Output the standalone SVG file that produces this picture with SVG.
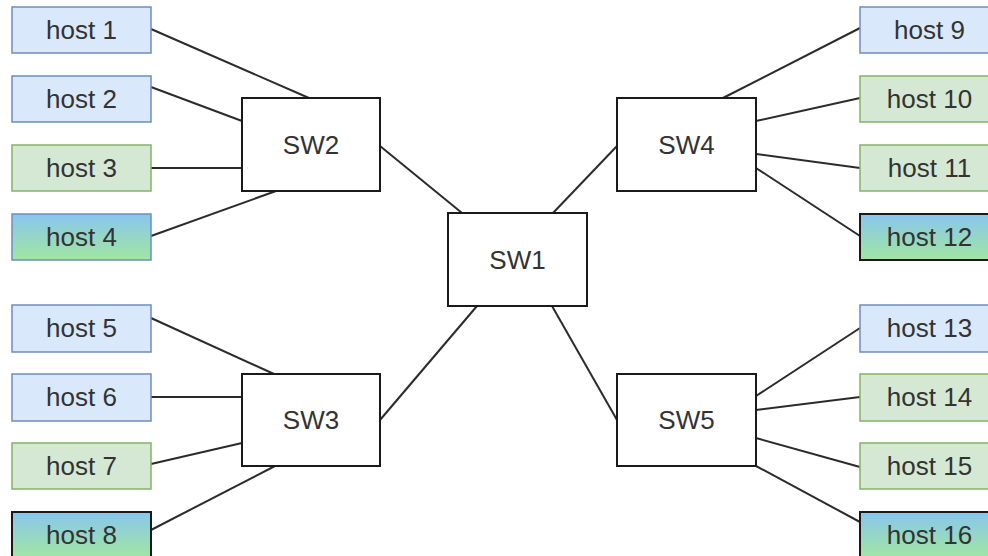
<svg xmlns="http://www.w3.org/2000/svg" width="988" height="556" viewBox="0 0 988 556">
  <style>
    .link { stroke: #2b2b2b; stroke-width: 2; fill: none; }
    .sw { fill: #ffffff; stroke: #1a1a1a; stroke-width: 2; }
    .blue { fill: #dae8fc; stroke: #6c8ebf; stroke-width: 1.5; }
    .green { fill: #d5e8d4; stroke: #82b366; stroke-width: 1.5; }
    .grad { fill: url(#bg); stroke: #6c8ebf; stroke-width: 1.5; }
    .gradk { fill: url(#bg); stroke: #1a1a1a; stroke-width: 2; }
    text { font-family: "Liberation Sans", Arial, sans-serif; font-size: 26px; fill: #333333; text-anchor: middle; dominant-baseline: central; }
  </style>
  <defs>
    <linearGradient id="bg" x1="0" y1="0" x2="0" y2="1">
      <stop offset="0" stop-color="#88c6ef"/>
      <stop offset="1" stop-color="#a2e6a0"/>
    </linearGradient>
  </defs>
  <rect width="988" height="556" fill="#ffffff"/>

  <!-- connectors -->
  <g id="links">
    <line class="link" x1="151" y1="29" x2="309" y2="98"/>
    <line class="link" x1="151" y1="87" x2="242" y2="121"/>
    <line class="link" x1="151" y1="168" x2="242" y2="168"/>
    <line class="link" x1="151" y1="236" x2="276" y2="191"/>
    <line class="link" x1="151" y1="318" x2="274" y2="374"/>
    <line class="link" x1="151" y1="397" x2="242" y2="397"/>
    <line class="link" x1="151" y1="464" x2="242" y2="443"/>
    <line class="link" x1="151" y1="530" x2="275" y2="466"/>
    <line class="link" x1="723" y1="98" x2="860" y2="28"/>
    <line class="link" x1="756" y1="121" x2="860" y2="98"/>
    <line class="link" x1="756" y1="154" x2="860" y2="168"/>
    <line class="link" x1="756" y1="168" x2="860" y2="236"/>
    <line class="link" x1="756" y1="396" x2="860" y2="328"/>
    <line class="link" x1="756" y1="410" x2="860" y2="397"/>
    <line class="link" x1="756" y1="438" x2="860" y2="467"/>
    <line class="link" x1="756" y1="466" x2="860" y2="522"/>
    <line class="link" x1="380" y1="146" x2="462" y2="213"/>
    <line class="link" x1="617" y1="146" x2="553" y2="213"/>
    <line class="link" x1="380" y1="420" x2="477" y2="306"/>
    <line class="link" x1="617" y1="420" x2="552" y2="306"/>
  </g>

  <!-- switches -->
  <g id="sw1"><rect class="sw" x="448" y="213" width="139" height="93"/><text x="517.5" y="260">SW1</text></g>
  <g id="sw2"><rect class="sw" x="242" y="98" width="138" height="93"/><text x="311" y="145">SW2</text></g>
  <g id="sw3"><rect class="sw" x="242" y="374" width="138" height="92"/><text x="311" y="420">SW3</text></g>
  <g id="sw4"><rect class="sw" x="617" y="98" width="139" height="93"/><text x="686.5" y="145">SW4</text></g>
  <g id="sw5"><rect class="sw" x="617" y="374" width="139" height="92"/><text x="686.5" y="420">SW5</text></g>

  <!-- hosts, left column -->
  <g id="host1"><rect class="blue" x="12" y="7" width="139" height="46"/><text x="81.5" y="30">host 1</text></g>
  <g id="host2"><rect class="blue" x="12" y="76" width="139" height="46"/><text x="81.5" y="99">host 2</text></g>
  <g id="host3"><rect class="green" x="12" y="145" width="139" height="46"/><text x="81.5" y="168">host 3</text></g>
  <g id="host4"><rect class="grad" x="12" y="214" width="139" height="46"/><text x="81.5" y="237">host 4</text></g>
  <g id="host5"><rect class="blue" x="12" y="305" width="139" height="47"/><text x="81.5" y="328">host 5</text></g>
  <g id="host6"><rect class="blue" x="12" y="374" width="139" height="47"/><text x="81.5" y="397">host 6</text></g>
  <g id="host7"><rect class="green" x="12" y="443" width="139" height="46"/><text x="81.5" y="466">host 7</text></g>
  <g id="host8"><rect class="gradk" x="12" y="512" width="139" height="46"/><text x="81.5" y="535">host 8</text></g>

  <!-- hosts, right column -->
  <g id="host9"><rect class="blue" x="860" y="7" width="139" height="46"/><text x="929.5" y="30">host 9</text></g>
  <g id="host10"><rect class="green" x="860" y="76" width="139" height="46"/><text x="929.5" y="99">host 10</text></g>
  <g id="host11"><rect class="green" x="860" y="145" width="139" height="46"/><text x="929.5" y="168">host 11</text></g>
  <g id="host12"><rect class="gradk" x="860" y="214" width="139" height="46"/><text x="929.5" y="237">host 12</text></g>
  <g id="host13"><rect class="blue" x="860" y="305" width="139" height="47"/><text x="929.5" y="328">host 13</text></g>
  <g id="host14"><rect class="green" x="860" y="374" width="139" height="47"/><text x="929.5" y="397">host 14</text></g>
  <g id="host15"><rect class="green" x="860" y="443" width="139" height="46"/><text x="929.5" y="466">host 15</text></g>
  <g id="host16"><rect class="gradk" x="860" y="512" width="139" height="46"/><text x="929.5" y="535">host 16</text></g>
</svg>
